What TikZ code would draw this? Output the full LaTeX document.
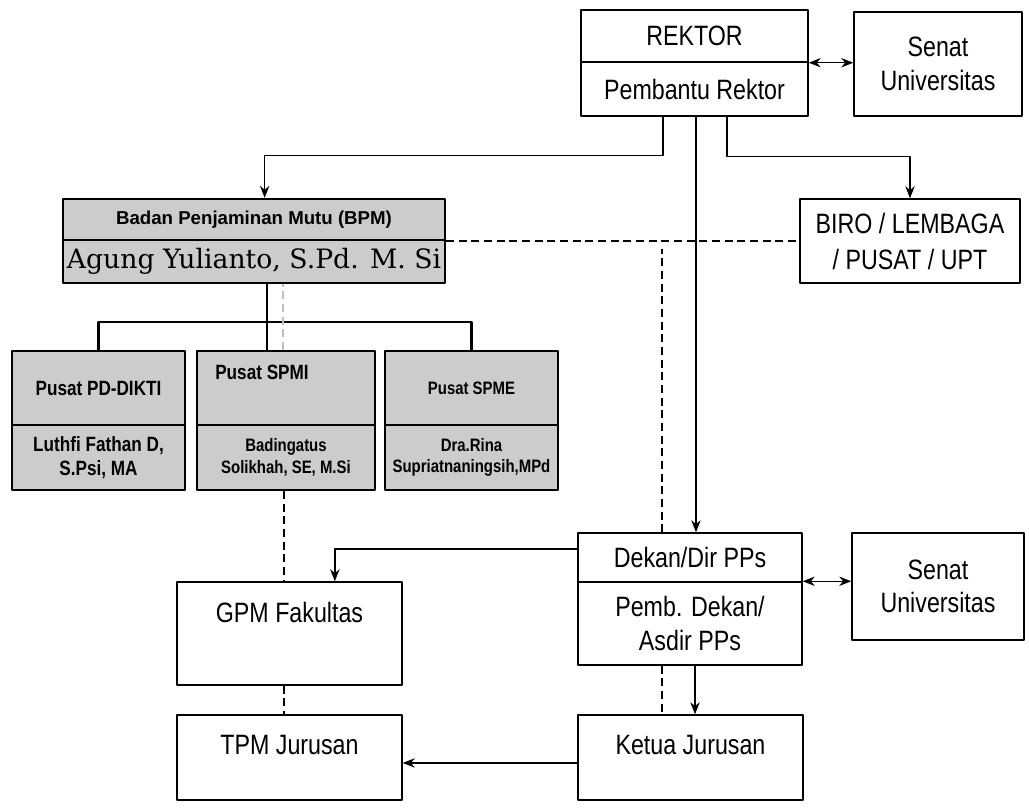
\documentclass[tikz,border=0pt]{standalone}
\usepackage{fontspec}
\usetikzlibrary{arrows.meta}
\setmainfont[FakeStretch=0.83]{Liberation Sans}
\newfontfamily\bpmfont{Liberation Sans}
\newfontfamily\namafont{DejaVu Serif}
\newcommand{\px}{0.75pt}
\newcommand{\pusat}{\bfseries\fontsize{15.5}{18}\selectfont}
\newcommand{\pusatkecil}{\bfseries\fontsize{13.5}{16}\selectfont}
\tikzset{
	kotak/.style={draw, line width=1.1pt, inner sep=0pt, align=center, font=\fontsize{21}{25}\selectfont},
	abu/.style={draw, line width=1.7pt, fill=gray!40, inner sep=0pt, align=center},
	garis/.style={line width=1.1pt},
	putus/.style={line width=1.1pt, dash pattern=on 6pt off 3.5pt},
}
\begin{document}
\begin{tikzpicture}[x=\px, y=-\px, >={Stealth[length=9pt,width=7pt]}, line join=round]
	\useasboundingbox (0,0) rectangle (1029,809);
	
	% --- Rektor ---
	\node[kotak, minimum width=227*\px, minimum height=52*\px] (rektor) at (694.5,36) {REKTOR};
	\node[kotak, minimum width=227*\px, minimum height=54*\px] (pr) at (694.5,89) {Pembantu Rektor};
	\node[kotak, minimum width=168*\px, minimum height=104*\px] (senat1) at (938,64) {Senat\\Universitas};
	\node[kotak, minimum width=220*\px, minimum height=84*\px, font=\fontsize{21}{27}\selectfont] (biro) at (910,241) {BIRO / LEMBAGA\\/ PUSAT / UPT};
	
	% --- BPM ---
	\node[abu, minimum width=382*\px, minimum height=41*\px, font=\bpmfont\bfseries\fontsize{14}{16}\selectfont] (bpm) at (254,219.5) {Badan Penjaminan Mutu (BPM)};
	\node[abu, minimum width=382*\px, minimum height=43*\px, font=\namafont\fontsize{20}{24}\selectfont] (kbpm) at (254,261.5) {Agung Yulianto, S.Pd. M. Si};
	
	% --- Pusat ---
	\node[abu, minimum width=173*\px, minimum height=74*\px, font=\pusat] (dikti) at (98.5,388) {Pusat PD-DIKTI};
	\node[abu, minimum width=173*\px, minimum height=65*\px, font=\pusat] (kdikti) at (98.5,457.5) {Luthfi Fathan D,\\S.Psi, MA};
	\node[abu, minimum width=178*\px, minimum height=74*\px] (spmi) at (286,388) {};
	\node[font=\pusat] (lspmi) at (262,372) {Pusat SPMI};
	\node[abu, minimum width=178*\px, minimum height=65*\px, font=\pusatkecil] (kspmi) at (286,457.5) {Badingatus\\Solikhah, SE, M.Si};
	\node[abu, minimum width=173*\px, minimum height=74*\px, font=\pusatkecil] (spme) at (471.5,388) {Pusat SPME};
	\node[abu, minimum width=173*\px, minimum height=65*\px, font=\pusatkecil] (kspme) at (471.5,457.5) {Dra.Rina\\Supriatnaningsih,MPd};
	
	% --- Fakultas ---
	\node[kotak, minimum width=224*\px, minimum height=49*\px] (dekan) at (690,557.5) {Dekan/Dir PPs};
	\node[kotak, minimum width=224*\px, minimum height=83*\px] (pd) at (690,623.5) {Pemb. Dekan/\\Asdir PPs};
	\node[kotak, minimum width=172*\px, minimum height=107*\px] (senat2) at (938,586.5) {Senat\\Universitas};
	\node[kotak, minimum width=225*\px, minimum height=103*\px, text depth=32pt] (gpm) at (289.5,633.5) {GPM Fakultas};
	\node[kotak, minimum width=225*\px, minimum height=85*\px, text depth=19pt] (tpm) at (289.5,757.5) {TPM Jurusan};
	\node[kotak, minimum width=225*\px, minimum height=85*\px, text depth=19pt] (ketua) at (690.5,757.5) {Ketua Jurusan};
	
	% --- Garis komando ---
	\draw[garis, <->] (rektor.south east) -- (rektor.south east -| senat1.west);
	\draw[garis, ->] ([xshift=-23.6pt]pr.south) -- ++(0,39) -| ([xshift=8pt]bpm.north);
	\draw[garis, ->] ([xshift=1.1pt]pr.south) -- ([xshift=1.1pt]pr.south |- dekan.north);
	\draw[garis, ->] ([xshift=24.4pt]pr.south) -- ++(0,40) -| (biro.north);
	\draw[line width=1.7pt] ([xshift=9.75pt]kbpm.south) -- ([xshift=9.75pt]kbpm.south |- spmi.north);
	\draw[line width=1.7pt] (dikti.north) -- ++(0,-28) -| (spme.north);
	\draw[garis, <->] (pd.north east) -- (pd.north east -| senat2.west);
	\draw[garis, ->] ([yshift=6.4pt]dekan.west) -| ([xshift=34pt]gpm.north);
	\draw[garis, ->] ([xshift=3.75pt]pd.south) -- ([xshift=3.75pt]pd.south |- ketua.north);
	\draw[garis, ->] ([yshift=-4.1pt]ketua.west) -- ([yshift=-4.1pt]ketua.west -| tpm.east);
	
	% --- Garis koordinasi ---
	\draw[putus] (bpm.south east) -- (bpm.south east -| biro.west);
	\draw[putus] ([xshift=-21pt]dekan.north) -- ++(0,-283);
	\draw[putus] ([xshift=-21pt]pd.south) -- ([xshift=-21pt]pd.south |- ketua.north);
	\draw[putus, gray!50] ([xshift=-2.25pt]spmi.north) -- ([xshift=-2.25pt]spmi.north |- kbpm.south);
	\draw[putus] ([xshift=-1.5pt]kspmi.south) -- ([xshift=-1.5pt]kspmi.south |- gpm.north);
	\draw[putus] ([xshift=-4pt]gpm.south) -- ([xshift=-4pt]gpm.south |- tpm.north);
\end{tikzpicture}
\end{document}
